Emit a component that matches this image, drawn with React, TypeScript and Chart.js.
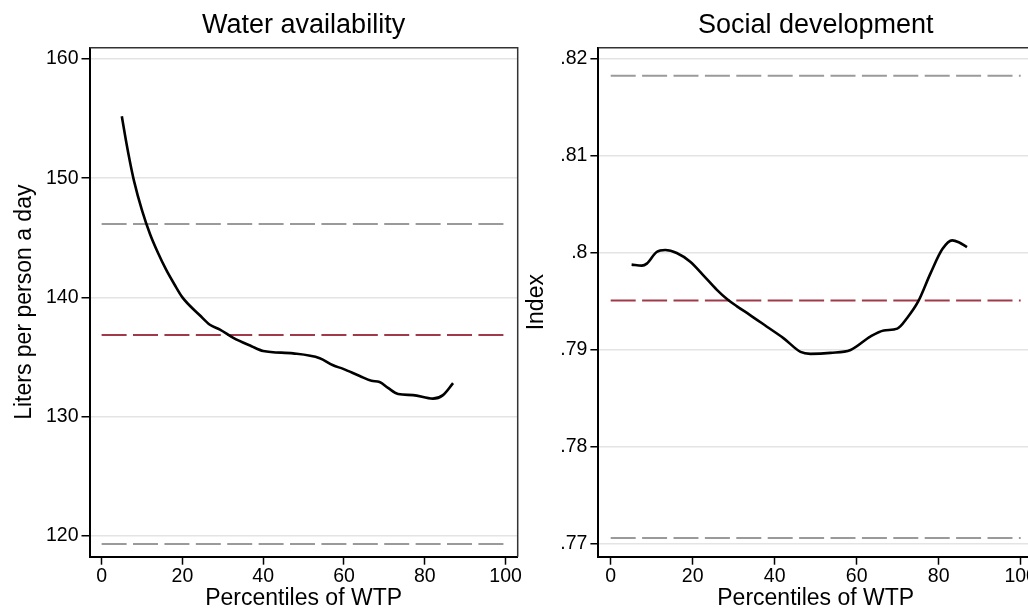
import React, { useEffect, useRef } from "react";
import { Chart, registerables } from "chart.js";

Chart.register(...registerables);

const FONT = "'Liberation Sans', Arial, Helvetica, sans-serif";

// Shared x axis: percentiles of willingness to pay
const percentileTicks = [0, 20, 40, 60, 80, 100];
const percentileTickLabels = ["0", "20", "40", "60", "80", "100"];
const referenceSpan = [0, 100];

// Water availability (liters per person a day)
const waterPercentiles = [
  5, 6, 7, 8, 10, 12, 14, 16, 18, 20, 24.3, 26.8, 29.3, 32.6, 37.1, 40, 47.4,
  54, 57.3, 59.8, 63.9, 66.8, 68.8, 70.9, 73.4, 77.1, 82, 84.5, 87,
];
const waterLiters = [
  155.2, 153.2, 151.4, 149.8, 147.3, 145.3, 143.7, 142.3, 141.1, 140.0, 138.5,
  137.7, 137.3, 136.6, 135.9, 135.5, 135.3, 134.9, 134.3, 134.0, 133.4, 133.0,
  132.9, 132.4, 131.9, 131.8, 131.5, 131.8, 132.8,
];
const waterMean = 136.85;
const waterUpper = 146.15;
const waterLower = 119.3;
const waterTicks = [120, 130, 140, 150, 160];
const waterTickLabels = ["120", "130", "140", "150", "160"];

// Social development index
const socialPercentiles = [
  5.1, 7.6, 8.8, 11.2, 13.3, 16.1, 19.4, 22.6, 25.9, 28.5, 30.8, 34.0, 38.1,
  42.2, 46.3, 48.7, 53.6, 58.5, 63.4, 66.6, 69.9, 72.3, 75.0, 78.0, 80.9, 83.3,
  84.9, 86.9,
];
const socialIndex = [
  0.7988, 0.7987, 0.7989, 0.8001, 0.8003, 0.8, 0.7991, 0.7977, 0.7962, 0.7952,
  0.7945, 0.7936, 0.7924, 0.7912, 0.7898, 0.7896, 0.7897, 0.79, 0.7914, 0.792,
  0.7922, 0.7933, 0.795, 0.7979, 0.8004, 0.8013, 0.8011, 0.8006,
];
const socialMean = 0.7951;
const socialUpper = 0.81828;
const socialLower = 0.77062;
const socialTicks = [0.77, 0.78, 0.79, 0.8, 0.81, 0.82];
const socialTickLabels = [".77", ".78", ".79", ".8", ".81", ".82"];

// Top and right edges of the plot frame
const framePlugin = {
  id: "frame",
  afterDraw(chart: any) {
    const { ctx, chartArea: a } = chart;
    ctx.save();
    ctx.strokeStyle = "#333";
    ctx.lineWidth = 1.5;
    ctx.beginPath();
    ctx.moveTo(a.left, a.top);
    ctx.lineTo(a.right, a.top);
    ctx.lineTo(a.right, a.bottom);
    ctx.stroke();
    ctx.restore();
  },
};

type PanelProps = {
  title: string;
  yTitle: string;
  xs: number[];
  ys: number[];
  mean: number;
  upper: number;
  lower: number;
  yMin: number;
  yMax: number;
  yTicks: number[];
  yLabels: string[];
  left: number;
  width: number;
  yAxisWidth: number;
  padRight: number;
  yTitlePad: number;
};

function refLine(value: number, color: string, order: number) {
  return {
    data: referenceSpan.map((x) => ({ x, y: value })),
    borderColor: color,
    borderWidth: 2,
    borderDash: [25, 6.4],
    pointRadius: 0,
    fill: false,
    order,
  };
}

function Panel(p: PanelProps) {
  const ref = useRef<HTMLCanvasElement | null>(null);

  useEffect(() => {
    if (!ref.current) return;
    const chart = new Chart(ref.current, {
      type: "line",
      data: {
        datasets: [
          {
            data: p.xs.map((x, i) => ({ x, y: p.ys[i] })),
            borderColor: "#000",
            borderWidth: 2.6,
            pointRadius: 0,
            cubicInterpolationMode: "monotone",
            fill: false,
            order: 0,
          } as any,
          refLine(p.mean, "#a03a4b", 1),
          refLine(p.upper, "#9a9a9a", 2),
          refLine(p.lower, "#9a9a9a", 3),
        ],
      },
      options: {
        animation: false,
        responsive: false,
        devicePixelRatio: 1,
        events: [],
        layout: { padding: { top: 0, right: p.padRight, bottom: 0, left: 0 } },
        plugins: {
          legend: { display: false },
          tooltip: { enabled: false },
          title: {
            display: true,
            text: p.title,
            fullSize: false,
            color: "#000",
            font: { family: FONT, size: 27, weight: "normal", lineHeight: 1.2 },
            padding: { top: 9.4, bottom: 5.9 },
          },
        },
        scales: {
          x: {
            type: "linear",
            min: -3,
            max: 103,
            afterBuildTicks: (s: any) => {
              s.ticks = percentileTicks.map((v) => ({ value: v }));
            },
            afterFit: (s: any) => {
              s.height = 52.3;
            },
            ticks: {
              padding: 0,
              color: "#000",
              autoSkip: false,
              maxRotation: 0,
              font: { family: FONT, size: 19.5 },
              callback: (_v: any, i: number) => percentileTickLabels[i],
            },
            grid: {
              drawOnChartArea: false,
              tickLength: 8,
              tickColor: "#000",
              tickWidth: 1.5,
            },
            border: { color: "#000", width: 2 },
            title: {
              display: true,
              text: "Percentiles of WTP",
              color: "#000",
              font: { family: FONT, size: 23, lineHeight: 1 },
              padding: { top: 0, bottom: -1 },
            },
          },
          y: {
            type: "linear",
            min: p.yMin,
            max: p.yMax,
            afterBuildTicks: (s: any) => {
              s.ticks = p.yTicks.map((v) => ({ value: v }));
            },
            afterFit: (s: any) => {
              s.width = p.yAxisWidth;
            },
            ticks: {
              padding: 3,
              color: "#000",
              autoSkip: false,
              font: { family: FONT, size: 19.5 },
              callback: (_v: any, i: number) => p.yLabels[i],
            },
            grid: {
              color: "#e4e4e4",
              lineWidth: 1.5,
              tickLength: 8,
              tickColor: "#000",
              tickWidth: 1.5,
            },
            border: { color: "#000", width: 2 },
            title: {
              display: true,
              text: p.yTitle,
              color: "#000",
              font: { family: FONT, size: 23, lineHeight: 1 },
              padding: { top: p.yTitlePad, bottom: 0 },
            },
          },
        },
      } as any,
      plugins: [framePlugin],
    });
    return () => chart.destroy();
  }, []);

  return (
    <canvas
      ref={ref}
      width={p.width}
      height={609}
      style={{
        position: "absolute",
        left: p.left,
        top: 0,
        width: p.width,
        height: 609,
        display: "block",
      }}
    />
  );
}

export default function App() {
  return (
    <div
      style={{
        position: "fixed",
        left: 0,
        top: 0,
        width: 1028,
        height: 609,
        overflow: "hidden",
        background: "#fff",
      }}
    >
      <Panel
        title="Water availability"
        yTitle="Liters per person a day"
        xs={waterPercentiles}
        ys={waterLiters}
        mean={waterMean}
        upper={waterUpper}
        lower={waterLower}
        yMin={118.24}
        yMax={160.95}
        yTicks={waterTicks}
        yLabels={waterTickLabels}
        left={0}
        width={528}
        yAxisWidth={89.5}
        padRight={10.3}
        yTitlePad={13}
      />
      <Panel
        title="Social development"
        yTitle="Index"
        xs={socialPercentiles}
        ys={socialIndex}
        mean={socialMean}
        upper={socialUpper}
        lower={socialLower}
        yMin={0.76869}
        yMax={0.82116}
        yTicks={socialTicks}
        yLabels={socialTickLabels}
        left={518}
        width={525}
        yAxisWidth={80.4}
        padRight={10}
        yTitlePad={7.5}
      />
    </div>
  );
}
